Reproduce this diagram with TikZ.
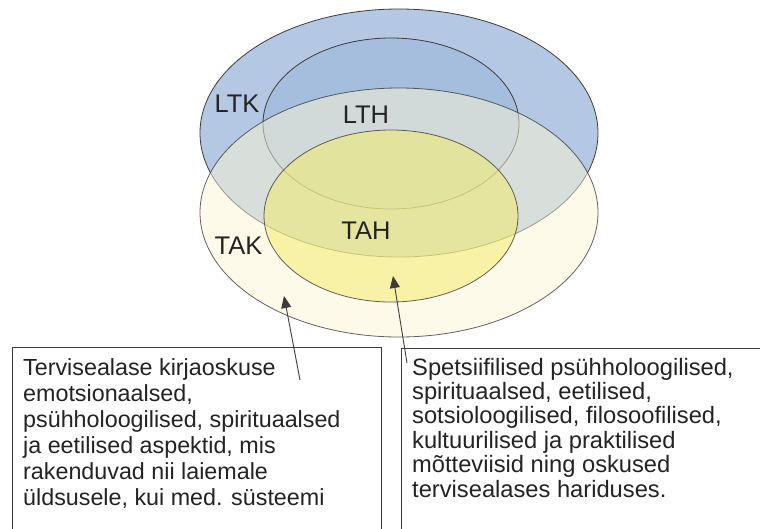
\documentclass[tikz,border=0pt]{standalone}
\usepackage{fontspec}
\setmainfont{Liberation Sans}
\usetikzlibrary{arrows.meta}
\definecolor{ltkblue}{RGB}{180,200,228}
\definecolor{lthblue}{RGB}{150,178,214}
\definecolor{takcream}{RGB}{252,247,212}
\definecolor{tahyellow}{RGB}{244,236,100}
\definecolor{edge}{RGB}{60,60,60}
\definecolor{ink}{RGB}{35,35,35}
\begin{document}
\begin{tikzpicture}[x=1pt,y=-1pt,
  setline/.style={draw=edge,line width=0.8pt},
  lbl/.style={text=ink,font=\fontsize{25.5}{28}\selectfont,inner sep=0pt,anchor=base},
  txt/.style={text=ink,font=\fontsize{23.3}{26}\selectfont,inner sep=0pt,anchor=base west},
  rtxt/.style={txt,font=\fontsize{23.7}{26}\selectfont},
  boxframe/.style={draw=edge,line width=0.9pt,fill=white,inner sep=0pt,anchor=north west},
  pointer/.style={draw=edge,line width=0.9pt,-{Triangle[length=12pt,width=10pt]}}]
\useasboundingbox (0,0) rectangle (760,528);
\clip (0,0) rectangle (760,528);
% sets
\fill[white] (0,0) rectangle (760,528);
\draw[setline,fill=ltkblue] (399,133) ellipse [x radius=199,y radius=124];
\draw[setline,fill=lthblue,fill opacity=0.45] (391,123.5) ellipse [x radius=128,y radius=85.5];
\draw[setline,fill=takcream,fill opacity=0.5,draw opacity=0.8] (399,212.5) ellipse [x radius=199,y radius=124.5];
\draw[setline,fill=tahyellow,fill opacity=0.5,draw opacity=0.8] (391,216) ellipse [x radius=127,y radius=86];
% labels
\node[lbl] (ltk) at (237,112) {LTK};
\node[lbl] (lth) at (366,123) {LTH};
\node[lbl] (tah) at (366,239) {TAH};
\node[lbl] (tak) at (238.5,254) {TAK};
% boxes
\node[boxframe,minimum width=369pt,minimum height=200pt] (lbox) at (12,347) {};
\node[boxframe,minimum width=380pt,minimum height=200pt] (rbox) at (401,348) {};
% left text
\foreach \t [count=\i from 0] in {Tervisealase kirjaoskuse,emotsionaalsed{,},psühholoogilised{,} spirituaalsed,ja eetilised aspektid{,} mis,rakenduvad nii laiemale,üldsusele{,} kui med. süsteemi}
  \node[txt] (lt\i) at (23,375+26*\i) {\t};
% right text
\foreach \t [count=\i from 0] in {Spetsiifilised psühholoogilised{,},spirituaalsed{,} eetilised{,},sotsioloogilised{,} filosoofilised{,},kultuurilised ja praktilised,mõtteviisid ning oskused,tervisealases hariduses.}
  \node[rtxt] (rt\i) at (412,375+24.4*\i) {\t};
% pointers
\coordinate (lfoot) at (300,380);
\coordinate (ltip) at (284,296);
\coordinate (rfoot) at (407,363);
\coordinate (rtip) at (393,276);
\draw[pointer] (lfoot) -- (ltip);
\draw[pointer] (rfoot) -- (rtip);
\end{tikzpicture}
\end{document}
